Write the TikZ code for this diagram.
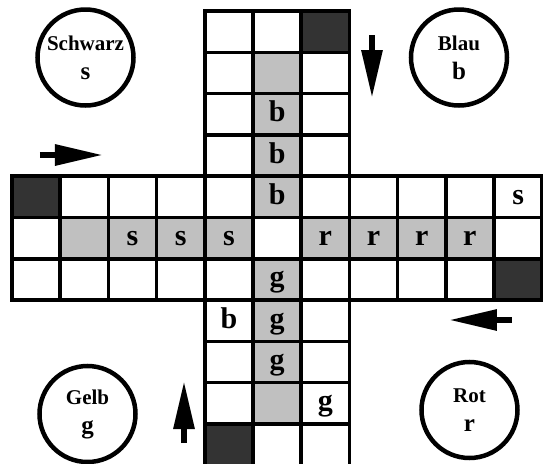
\documentclass[tikz,border=0pt]{standalone}
\usepackage{fontspec}
\setmainfont{Liberation Serif}
\usepackage{xcolor}
\usetikzlibrary{arrows.meta, positioning, backgrounds}
\definecolor{fieldgray}{HTML}{C0C0C0}
\definecolor{startdark}{HTML}{333333}
\newcommand{\homeletter}[1]{{\fontsize{12.5}{14.5}\selectfont #1}}
\tikzset{
  cell/.style = {
    rectangle, draw=black, line width=1.75pt,
    minimum width=24.1pt, minimum height=20.65pt,
    inner sep=0pt, outer sep=0pt
  },
  piece/.style = {
    font=\fontsize{15}{18}\selectfont\bfseries,
    text height=10pt, text depth=2.5pt, inner sep=0pt
  },
  home/.style = {
    circle, draw=black, line width=2.25pt, minimum size=48pt,
    inner sep=0pt, align=center,
    font=\fontsize{10.5}{14.5}\selectfont\bfseries,
    execute at begin node=\rule{0pt}{11pt}
  },
  dirarrow/.style = {line width=3pt, -{Triangle[length=24pt, width=10pt]}}
}

\begin{document}
\begin{tikzpicture}[x=0.5pt, y=0.5pt]
\useasboundingbox (0,0) rectangle (543,463);

%% ── Board: vertical and horizontal bands ─────────────
\foreach \c in {4,5,6}
  \foreach \r in {0,...,10}
    \node[cell] (f\c-\r) at ({12+48.2*(\c+0.5)}, {452-41.3*(\r+0.5)}) {};
\foreach \r in {4,5,6}
  \foreach \c in {0,1,2,3,7,8,9,10}
    \node[cell] (f\c-\r) at ({12+48.2*(\c+0.5)}, {452-41.3*(\r+0.5)}) {};

%% ── Fills: home lanes and start fields ───────────────
\begin{scope}[on background layer]
  \fill[white] (0,0) rectangle (543,463);
  \fill[fieldgray] (f5-1.north west) rectangle (f5-4.south east);
  \fill[fieldgray] (f5-6.north west) rectangle (f5-9.south east);
  \fill[fieldgray] (f1-5.north west) rectangle (f4-5.south east);
  \fill[fieldgray] (f6-5.north west) rectangle (f9-5.south east);
  \foreach \s in {f6-0, f0-4, f10-6, f4-10}
    \fill[startdark] (\s.north west) rectangle (\s.south east);
\end{scope}

%% ── Pieces ───────────────────────────────────────────
\node[piece] (b1) at (f5-2) {b};
\node[piece] (b2) at (f5-3) {b};
\node[piece] (b3) at (f5-4) {b};
\node[piece] (b4) at (f4-7) {b};
\node[piece] (s1) at (f2-5) {s};
\node[piece] (s2) at (f3-5) {s};
\node[piece] (s3) at (f4-5) {s};
\node[piece] (s4) at (f10-4) {s};
\node[piece] (r1) at (f6-5) {r};
\node[piece] (r2) at (f7-5) {r};
\node[piece] (r3) at (f8-5) {r};
\node[piece] (r4) at (f9-5) {r};
\node[piece] (g1) at (f5-6) {g};
\node[piece] (g2) at (f5-7) {g};
\node[piece] (g3) at (f5-8) {g};
\node[piece] (g4) at (f6-9) {g};

%% ── Home circles ─────────────────────────────────────
\node[home] (schwarz) at (85.5, 405.5) {Schwarz\\\homeletter{s}};
\node[home] (blau)    at (459, 405.5)  {Blau\\\homeletter{b}};
\node[home] (gelb)    at (87.5, 49)    {Gelb\\\homeletter{g}};
\node[home] (rot)     at (469.5, 53)   {Rot\\\homeletter{r}};

%% ── Direction arrows ─────────────────────────────────
\coordinate (sTail) at (40, 308);  \coordinate (sTip) at (103, 308);
\coordinate (bTail) at (372, 428); \coordinate (bTip) at (372, 365);
\coordinate (rTail) at (512, 143); \coordinate (rTip) at (449, 143);
\coordinate (gTail) at (184, 20);  \coordinate (gTip) at (184, 82);
\draw[dirarrow] (sTail) -- (sTip);
\draw[dirarrow] (bTail) -- (bTip);
\draw[dirarrow] (rTail) -- (rTip);
\draw[dirarrow] (gTail) -- (gTip);

\end{tikzpicture}
\end{document}
